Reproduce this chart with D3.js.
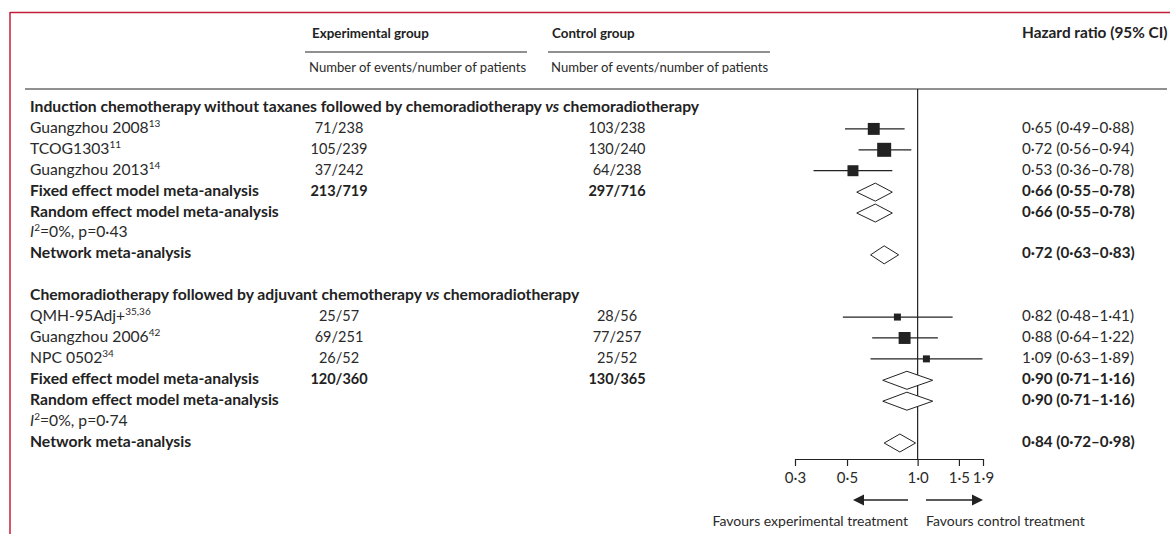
<!DOCTYPE html>
<html>
<head>
<meta charset="utf-8">
<script src="https://cdn.jsdelivr.net/npm/d3@7"></script>
<style>
  body { margin: 0; background: #fff; }
  svg { display: block; font-family: Lato, "Noto Sans", sans-serif; }
  .n { font-size: 14px; fill: #2a2a2a; }
  .b { font-size: 14px; fill: #222; font-weight: bold; }
  .lab { font-size: 15.7px; }
  .hr { font-size: 15.2px; }
</style>
</head>
<body>
<svg id="chart" width="1170" height="534"></svg>
<script>
// values
const sectionTitles = [
  "Induction chemotherapy without taxanes followed by chemoradiotherapy",
  "Chemoradiotherapy followed by adjuvant chemotherapy"
];
const comparator = "chemoradiotherapy";
const studyNames = [["Guangzhou 2008", "TCOG1303", "Guangzhou 2013"], ["QMH-95Adj+", "Guangzhou 2006", "NPC 0502"]];
const studyRefs = [["13", "11", "14"], ["35,36", "42", "34"]];
const expEvents = [["71/238", "105/239", "37/242"], ["25/57", "69/251", "26/52"]];
const ctrlEvents = [["103/238", "130/240", "64/238"], ["28/56", "77/257", "25/52"]];
const studyHR = [
  [[0.65, 0.49, 0.88], [0.72, 0.56, 0.94], [0.53, 0.36, 0.78]],
  [[0.82, 0.48, 1.41], [0.88, 0.64, 1.22], [1.09, 0.63, 1.89]]
];
const studyWeight = [[32, 44, 27], [11, 32, 11]];
const fixedEvents = [["213/719", "297/716"], ["120/360", "130/365"]];
const fixedHR = [[0.66, 0.55, 0.78], [0.90, 0.71, 1.16]];
const randomHR = [[0.66, 0.55, 0.78], [0.90, 0.71, 1.16]];
const heterogeneity = [["0%", "0·43"], ["0%", "0·74"]];
const networkHR = [[0.72, 0.63, 0.83], [0.84, 0.72, 0.98]];
const axisTicks = [0.3, 0.5, 1.0, 1.5, 1.9];

const svg = d3.select("#chart");
const dark = "#222";

const x = d3.scaleLog().domain([0.3, 1.9]).range([795, 983]);
const y = d3.scaleLinear().domain([0, 16]).range([107, 441.5]);
const size = d3.scaleSqrt().domain([0, 44]).range([0, 14]);

const fmt = v => d3.format(".2f")(v).replace(".", "·");
const hrText = d => fmt(d[0]) + " (" + fmt(d[1]) + "–" + fmt(d[2]) + ")";

// frame
svg.append("line").attr("x1", 10).attr("x2", 1170).attr("y1", 12.5).attr("y2", 12.5)
  .attr("stroke", "#c41e3a").attr("stroke-width", 1.5);
svg.append("line").attr("x1", 10).attr("x2", 10).attr("y1", 12).attr("y2", 534)
  .attr("stroke", "#c41e3a").attr("stroke-width", 1.5);

// header
svg.append("text").attr("class", "b").attr("x", 312).attr("y", 38).style("font-size", "13.4px").text("Experimental group");
svg.append("text").attr("class", "b").attr("x", 552).attr("y", 38).style("font-size", "13.4px").text("Control group");
svg.append("text").attr("class", "b").attr("x", 1022).attr("y", 38).style("font-size", "15.4px").text("Hazard ratio (95% CI)");
svg.append("line").attr("x1", 305).attr("x2", 527).attr("y1", 52).attr("y2", 52).attr("stroke", dark).attr("stroke-width", 1.2);
svg.append("line").attr("x1", 548).attr("x2", 770).attr("y1", 52).attr("y2", 52).attr("stroke", dark).attr("stroke-width", 1.2);
svg.append("text").attr("class", "n").attr("x", 309).attr("y", 72).style("font-size", "13.1px").text("Number of events/number of patients");
svg.append("text").attr("class", "n").attr("x", 551).attr("y", 72).style("font-size", "13.1px").text("Number of events/number of patients");
svg.append("line").attr("x1", 25).attr("x2", 1167).attr("y1", 89).attr("y2", 89).attr("stroke", dark).attr("stroke-width", 1.2);

// null line
svg.append("line").attr("x1", x(1)).attr("x2", x(1)).attr("y1", 89).attr("y2", 459)
  .attr("stroke", dark).attr("stroke-width", 1.2);

function label(row, cls, txt, sup) {
  const t = svg.append("text").attr("class", cls + " lab").attr("x", 30).attr("y", y(row) + 5).text(txt);
  if (sup) t.append("tspan").attr("dy", -6).style("font-size", "10px").text(sup);
  return t;
}
function diamond(row, d) {
  const cy = y(row) + 1.5, h = 9;
  svg.append("path")
    .attr("d", `M${x(d[1])},${cy}L${x(d[0])},${cy - h}L${x(d[2])},${cy}L${x(d[0])},${cy + h}Z`)
    .attr("fill", "#fff").attr("stroke", dark).attr("stroke-width", 1);
}
function hrLabel(row, cls, d) {
  svg.append("text").attr("class", cls + " hr").attr("x", 1022).attr("y", y(row) + 5).text(hrText(d));
}

sectionTitles.forEach((title, s) => {
  const base = s * 9;
  const t = svg.append("text").attr("class", "b lab").attr("x", 30).attr("y", y(base) + 5);
  t.append("tspan").text(title + " ");
  t.append("tspan").style("font-style", "italic").text("vs");
  t.append("tspan").text(" " + comparator);

  studyNames[s].forEach((name, i) => {
    const row = base + 1 + i;
    const d = studyHR[s][i];
    const cy = y(row) + 1;
    label(row, "n", name, studyRefs[s][i]);
    svg.append("text").attr("class", "n").attr("x", 339).attr("y", y(row) + 5).attr("text-anchor", "middle").style("font-size", "14.5px").text(expEvents[s][i]);
    svg.append("text").attr("class", "n").attr("x", 617).attr("y", y(row) + 5).attr("text-anchor", "middle").style("font-size", "14.5px").text(ctrlEvents[s][i]);
    svg.append("line").attr("x1", x(d[1])).attr("x2", x(d[2])).attr("y1", cy).attr("y2", cy)
      .attr("stroke", dark).attr("stroke-width", 1.2);
    const w = size(studyWeight[s][i]);
    svg.append("rect").attr("x", x(d[0]) - w / 2).attr("y", cy - w / 2).attr("width", w).attr("height", w)
      .attr("fill", dark);
    hrLabel(row, "n", d);
  });

  label(base + 4, "b", "Fixed effect model meta-analysis");
  svg.append("text").attr("class", "b").attr("x", 339).attr("y", y(base + 4) + 5).attr("text-anchor", "middle").style("font-size", "14.5px").text(fixedEvents[s][0]);
  svg.append("text").attr("class", "b").attr("x", 617).attr("y", y(base + 4) + 5).attr("text-anchor", "middle").style("font-size", "14.5px").text(fixedEvents[s][1]);
  diamond(base + 4, fixedHR[s]);
  hrLabel(base + 4, "b", fixedHR[s]);

  label(base + 5, "b", "Random effect model meta-analysis");
  diamond(base + 5, randomHR[s]);
  hrLabel(base + 5, "b", randomHR[s]);

  const het = svg.append("text").attr("class", "n lab").attr("x", 30).attr("y", y(base + 6) + 5);
  het.append("tspan").style("font-style", "italic").text("I");
  het.append("tspan").attr("dy", -6).style("font-size", "10px").text("2");
  het.append("tspan").attr("dy", 6).text("=" + heterogeneity[s][0] + ", p=" + heterogeneity[s][1]);

  label(base + 7, "b", "Network meta-analysis");
  diamond(base + 7, networkHR[s]);
  hrLabel(base + 7, "b", networkHR[s]);
});

// axis
const axis = svg.append("g").attr("transform", "translate(0,459)")
  .call(d3.axisBottom(x).tickValues(axisTicks).tickSize(7).tickSizeOuter(0).tickPadding(6)
    .tickFormat(d => d3.format(".1f")(d).replace(".", "·")));
axis.select(".domain").attr("stroke", dark).attr("stroke-width", 1.2);
axis.selectAll(".tick line").attr("stroke", dark).attr("stroke-width", 1.2);
axis.selectAll(".tick text").attr("fill", "#2a2a2a").style("font-size", "15px").style("font-family", "Lato, sans-serif");

// direction arrows
const ay = 500;
svg.append("line").attr("x1", 863).attr("x2", 908).attr("y1", ay).attr("y2", ay).attr("stroke", dark).attr("stroke-width", 1.5);
svg.append("path").attr("d", `M853,${ay}L864,${ay - 5.5}L864,${ay + 5.5}Z`).attr("fill", dark);
svg.append("line").attr("x1", 926).attr("x2", 972).attr("y1", ay).attr("y2", ay).attr("stroke", dark).attr("stroke-width", 1.5);
svg.append("path").attr("d", `M983,${ay}L972,${ay - 5.5}L972,${ay + 5.5}Z`).attr("fill", dark);
svg.append("text").attr("class", "n").attr("x", 908).attr("y", 526).attr("text-anchor", "end").style("font-size", "14px").text("Favours experimental treatment");
svg.append("text").attr("class", "n").attr("x", 926).attr("y", 526).style("font-size", "14px").text("Favours control treatment");
</script>
</body>
</html>
